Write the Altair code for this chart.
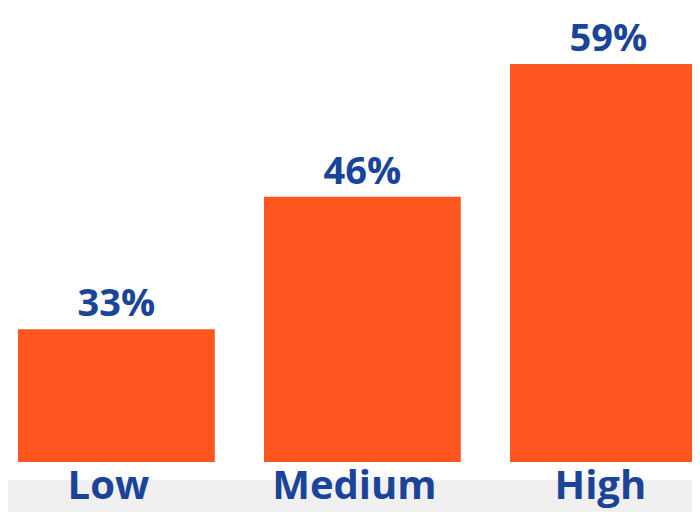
import altair as alt
import pandas as pd

categories = ["Low", "Medium", "High"]
values = [33, 46, 59]

df = pd.DataFrame({"level": categories, "value": values})

BAR = "#FF5620"
TXT = "#1A449A"
FONT = "Open Sans"

x_enc = alt.X(
    "level:N",
    sort=categories,
    scale=alt.Scale(range=[10, 698.8], paddingInner=0.2, paddingOuter=0),
    axis=alt.Axis(
        title=None, domain=False, ticks=False, labelAngle=0,
        labelFont=FONT, labelFontSize=40, labelFontWeight="bold",
        labelColor=TXT, labelPadding=36, labelBaseline="alphabetic",
        labelOffset=-8, zindex=1,
    ),
)
y_scale = alt.Scale(domain=[20, 64.5], clamp=True, zero=False, nice=False)

band = alt.Chart(df).mark_rect(color="#F0F0F0").encode(
    x=alt.value(-8), x2=alt.value(700), y=alt.value(472), y2=alt.value(520)
)

bars = alt.Chart(df).mark_bar(color=BAR).encode(
    x=x_enc,
    y=alt.Y("value:Q", scale=y_scale, axis=None),
)

labels = alt.Chart(df).transform_calculate(
    label="datum.value + '%'"
).mark_text(
    font=FONT, fontSize=38, fontWeight="bold", color=TXT,
    baseline="alphabetic", dy=-13,
).encode(
    x=alt.X("level:N", sort=categories),
    y=alt.Y("value:Q", scale=y_scale, axis=None),
    text="label:N",
)

chart = alt.layer(band, bars, labels).properties(
    width=684, height=454,
    autosize=alt.AutoSizeParams(type="none"),
    padding={"top": 0, "left": 0, "right": 0, "bottom": 50},
).configure_view(stroke=None)

chart.save("out.html", embed_options={"renderer": "svg", "actions": False})
